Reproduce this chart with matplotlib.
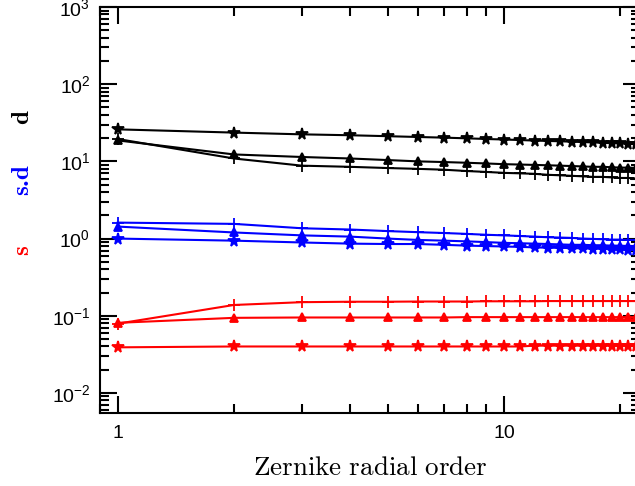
import math
import matplotlib
matplotlib.use("Agg")
import matplotlib.pyplot as plt
from matplotlib.ticker import LogLocator, FixedLocator, NullFormatter

# --- Data ---
order = list(range(1, 23))

d_star = [26, 23.6, 22.4, 21.8, 21.2, 20.7, 20.3, 19.9, 19.5, 19.2, 18.9,
          18.6, 18.4, 18.2, 18.0, 17.8, 17.6, 17.4, 17.2, 17.1, 16.9, 16.8]
d_tri = [18.7, 12.3, 11.4, 10.9, 10.4, 10.0, 9.8, 9.6, 9.4, 9.2, 9.1,
         9.0, 8.9, 8.8, 8.7, 8.6, 8.5, 8.5, 8.4, 8.3, 8.3, 8.2]
d_plus = [19.5, 10.9, 8.8, 8.5, 8.2, 8.0, 7.8, 7.5, 7.3, 7.1, 7.0,
          6.9, 6.7, 6.6, 6.5, 6.4, 6.3, 6.3, 6.2, 6.1, 6.1, 6.0]

sd_plus = [1.61, 1.55, 1.36, 1.31, 1.25, 1.21, 1.18, 1.15, 1.12, 1.10, 1.08,
           1.06, 1.04, 1.03, 1.02, 1.00, 0.99, 0.98, 0.97, 0.97, 0.96, 0.96]
sd_tri = [1.43, 1.20, 1.10, 1.06, 1.00, 0.96, 0.94, 0.92, 0.90, 0.88, 0.87,
          0.86, 0.85, 0.84, 0.83, 0.83, 0.82, 0.82, 0.81, 0.81, 0.80, 0.80]
sd_star = [1.00, 0.94, 0.89, 0.86, 0.85, 0.85, 0.83, 0.81, 0.80, 0.79, 0.78,
           0.77, 0.76, 0.76, 0.75, 0.75, 0.74, 0.74, 0.73, 0.73, 0.72, 0.72]

s_plus = [0.079, 0.138, 0.150, 0.152, 0.152, 0.153, 0.153, 0.153, 0.154, 0.154, 0.154,
          0.154, 0.155, 0.155, 0.155, 0.155, 0.155, 0.155, 0.155, 0.155, 0.155, 0.155]
s_tri = [0.081, 0.094, 0.095, 0.095, 0.095, 0.095, 0.095, 0.096, 0.096, 0.096, 0.096,
         0.096, 0.096, 0.096, 0.096, 0.096, 0.096, 0.096, 0.096, 0.096, 0.096, 0.096]
s_star = [0.039, 0.040, 0.040, 0.040, 0.040, 0.040, 0.040, 0.040, 0.040, 0.040, 0.040,
          0.041, 0.041, 0.041, 0.041, 0.041, 0.041, 0.041, 0.041, 0.041, 0.041, 0.041]

# --- Style ---
plt.rcParams["font.family"] = ["Liberation Sans", "DejaVu Sans"]
plt.rcParams["mathtext.fontset"] = "custom"
plt.rcParams["mathtext.rm"] = "Liberation Sans"
plt.rcParams["mathtext.it"] = "Liberation Sans:italic"
plt.rcParams["mathtext.bf"] = "Liberation Sans:bold"

W, H = 635, 486
fig = plt.figure(figsize=(W / 100, H / 100), dpi=100)
ax = fig.add_axes([100 / W, 1 - 413 / H, 540 / W, 406 / H])

series = [
    (d_star, "k", "*", 8.5), (d_tri, "k", "^", 6), (d_plus, "k", "+", 9),
    (sd_plus, "b", "+", 9), (sd_tri, "b", "^", 6), (sd_star, "b", "*", 8.5),
    (s_plus, "r", "+", 9), (s_tri, "r", "^", 6), (s_star, "r", "*", 8.5),
]
for vals, col, mk, size in series:
    ax.plot(order, vals, color=col, marker=mk, lw=1.5, ms=size, mew=1.3)

ax.set_xscale("log")
ax.set_yscale("log")
ax.set_xlim(0.9, 22.5)
ax.set_ylim(5.5e-3, 1e3)

# --- Ticks ---
ax.xaxis.set_major_locator(FixedLocator([1, 10]))
ax.xaxis.set_major_formatter(plt.FuncFormatter(lambda v, p: "%d" % v))
ax.xaxis.set_minor_locator(LogLocator(base=10, subs=range(2, 10), numticks=20))
ax.xaxis.set_minor_formatter(NullFormatter())
ax.yaxis.set_major_locator(FixedLocator([1e-2, 1e-1, 1, 1e1, 1e2, 1e3]))
ax.yaxis.set_major_formatter(plt.FuncFormatter(
    lambda v, p: r"$\mathregular{10^{%d}}$" % round(math.log10(v))))
ax.yaxis.set_minor_locator(LogLocator(base=10, subs=range(2, 10), numticks=20))
ax.yaxis.set_minor_formatter(NullFormatter())

ax.tick_params(which="both", direction="in", top=True, right=True, width=1.5,
               labelsize=14)
ax.tick_params(which="major", length=12.5)
ax.tick_params(which="minor", length=6.5)
ax.tick_params(axis="x", which="major", pad=9)
ax.tick_params(axis="y", which="major", pad=7)
for sp in ax.spines.values():
    sp.set_linewidth(1.5)

# --- Labels ---
ax.set_xlabel(r"$\mathrm{Zernike\ radial\ order}$", fontsize=19.5,
              math_fontfamily="cm", labelpad=9)
for txt, col, y in [("d", "k", 117), ("s.d", "b", 180), ("s", "r", 250)]:
    fig.text(22 / W, 1 - y / H, txt, color=col, fontsize=18, family="cmb10",
             rotation=90, ha="center", va="center")

fig.savefig("out.png", dpi=100)
